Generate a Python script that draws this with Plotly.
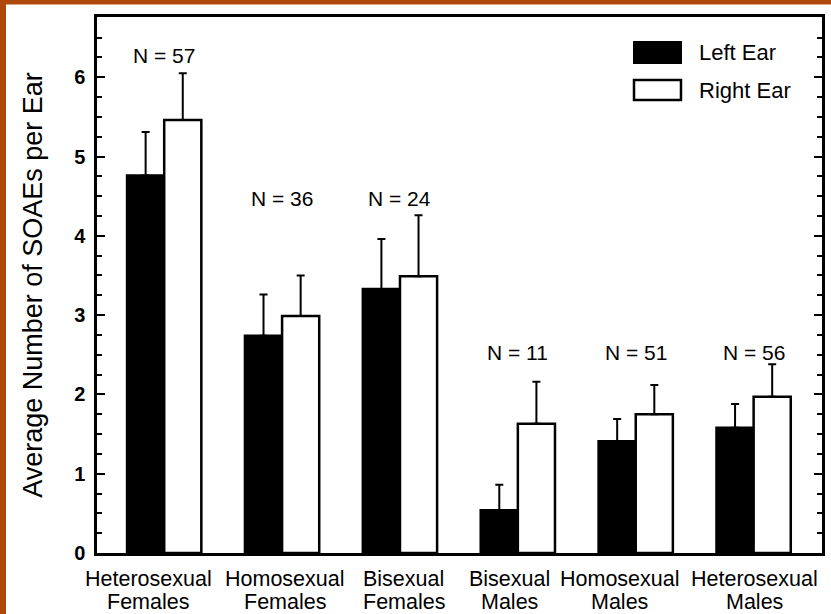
import plotly.graph_objects as go

categories = ["Heterosexual<br>Females", "Homosexual<br>Females", "Bisexual<br>Females",
              "Bisexual<br>Males", "Homosexual<br>Males", "Heterosexual<br>Males"]
left_ear = [4.76, 2.74, 3.33, 0.54, 1.41, 1.58]
left_err = [0.55, 0.52, 0.63, 0.32, 0.28, 0.30]
right_ear = [5.46, 2.99, 3.49, 1.63, 1.75, 1.97]
right_err = [0.59, 0.51, 0.77, 0.53, 0.37, 0.41]
n_labels = ["N = 57", "N = 36", "N = 24", "N = 11", "N = 51", "N = 56"]
n_label_y = [6.28, 4.47, 4.47, 2.53, 2.53, 2.53]
label_xshift = [-16, 3, 4, -8, -16, 1]

FONT = "Liberation Sans, Arial, sans-serif"

fig = go.Figure()
fig.add_trace(go.Bar(
    x=categories, y=left_ear, name="Left Ear",
    marker=dict(color="black", line=dict(color="black", width=2.5)),
    error_y=dict(type="data", array=left_err, arrayminus=[0] * len(left_err),
                 symmetric=False, color="black", thickness=2, width=4),
))
fig.add_trace(go.Bar(
    x=categories, y=right_ear, name="Right Ear",
    marker=dict(color="white", line=dict(color="black", width=2.5)),
    error_y=dict(type="data", array=right_err, arrayminus=[0] * len(right_err),
                 symmetric=False, color="black", thickness=2, width=4),
))

for c, t, yy in zip(categories, n_labels, n_label_y):
    fig.add_annotation(x=c, y=yy, text=t, showarrow=False,
                       font=dict(family=FONT, size=21, color="black"))

# category labels (two lines each)
for c, dx in zip(categories, label_xshift):
    line1, line2 = c.split("<br>")
    fig.add_annotation(x=c, xref="x", y=0, yref="paper", text=line1, showarrow=False,
                       yanchor="middle", yshift=-26, xshift=dx,
                       font=dict(family=FONT, size=21.5, color="black"))
    fig.add_annotation(x=c, xref="x", y=0, yref="paper", text=line2, showarrow=False,
                       yanchor="middle", yshift=-49, xshift=dx,
                       font=dict(family=FONT, size=21.5, color="black"))

# custom legend
fig.add_shape(type="rect", xref="paper", yref="paper", x0=0.7407, x1=0.8055,
              y0=0.9142, y1=0.9534, fillcolor="black", line=dict(color="black", width=2))
fig.add_shape(type="rect", xref="paper", yref="paper", x0=0.7407, x1=0.8055,
              y0=0.8451, y1=0.8825, fillcolor="white", line=dict(color="black", width=2.5))
fig.add_annotation(xref="paper", yref="paper", x=0.828, y=0.9347, text="Left Ear",
                   showarrow=False, xanchor="left", yanchor="middle",
                   font=dict(family=FONT, size=22, color="black"))
fig.add_annotation(xref="paper", yref="paper", x=0.828, y=0.8638, text="Right Ear",
                   showarrow=False, xanchor="left", yanchor="middle",
                   font=dict(family=FONT, size=22, color="black"))

# slide frame (top and left edges)
fig.add_shape(type="rect", xref="paper", yref="paper", x0=-0.14, x1=1.02,
              y0=1 + 12.5 / 536, y1=1 + 17.5 / 536, fillcolor="#B0480C", line=dict(width=0), layer="above")
fig.add_shape(type="rect", xref="paper", yref="paper", x0=-0.14, x1=-91 / 725,
              y0=-0.12, y1=1.04, fillcolor="#B0480C", line=dict(width=0), layer="above")

fig.update_layout(
    width=831, height=614,
    margin=dict(l=97, r=9, t=17, b=61),
    paper_bgcolor="white", plot_bgcolor="white",
    barmode="group", bargap=0.37, bargroupgap=0,
    showlegend=False,
    font=dict(family=FONT, color="black"),
)
fig.update_xaxes(
    range=[-0.57, 5.58], showline=True, linecolor="black", linewidth=2.5, mirror=True,
    ticks="", showgrid=False, automargin=False, showticklabels=False,
)
fig.update_yaxes(
    range=[0, 6.76], dtick=1, showline=True, linecolor="black", linewidth=2.5,
    mirror="allticks", ticks="inside", ticklen=8, tickwidth=2, tickcolor="black",
    minor=dict(dtick=0.25, ticks="inside", ticklen=5, tickwidth=1.5, tickcolor="black"),
    showgrid=False, zeroline=False, automargin=False,
    tickfont=dict(family=FONT, size=20, color="black", weight="bold"),
    ticklabelstandoff=5,
    title=dict(text="Average Number of SOAEs per Ear", standoff=24,
               font=dict(family=FONT, size=27, color="black")),
)

fig.write_html("out.html", post_script="document.body.style.margin='0';",
               config={"displayModeBar": False})
